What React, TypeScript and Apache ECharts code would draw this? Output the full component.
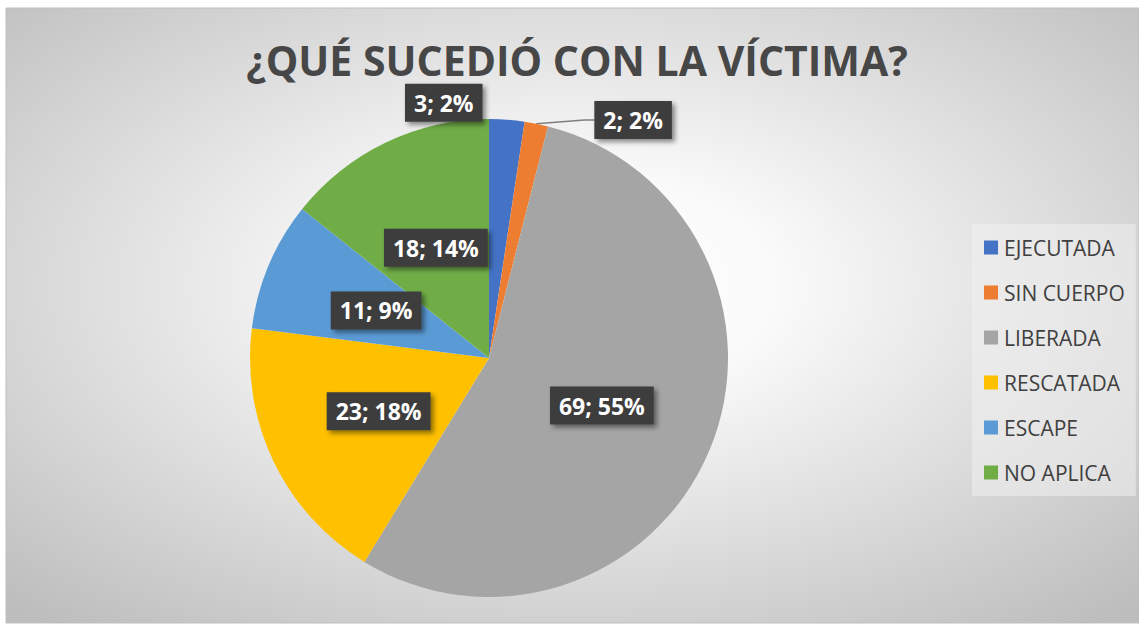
import React, { useEffect, useRef } from 'react';
import * as echarts from 'echarts';

const categories = ['EJECUTADA', 'SIN CUERPO', 'LIBERADA', 'RESCATADA', 'ESCAPE', 'NO APLICA'];
const values = [3, 2, 69, 23, 11, 18];
const colors = ['#4472C4', '#ED7D31', '#A5A5A5', '#FFC000', '#5B9BD5', '#70AD47'];
const titleText = '¿QUÉ SUCEDIÓ CON LA VÍCTIMA?';
// which slices get their label outside the pie, with an optional leader line
const outsideLabel = [true, true, false, false, false, false];
const showLeader = [false, true, false, false, false, false];
// small nudges of the outside labels (best-fit placement)
const labelNudge: Array<[number, number]> = [[-118, -2], [40, 11], [0, 0], [0, 0], [0, 0], [0, 0]];

const FONT = '"Open Sans", "Noto Sans", sans-serif';

export default function App() {
  const ref = useRef<HTMLDivElement>(null);
  useEffect(() => {
    if (!ref.current) return;
    const chart = echarts.init(ref.current, undefined, { renderer: 'svg' });
    const total = values.reduce((a, b) => a + b, 0);
    const data = categories.map((name, i) => ({
      name,
      value: values[i],
      itemStyle: { color: colors[i] },
      label: { position: outsideLabel[i] ? 'outside' : 'inside' },
      labelLine: { show: showLeader[i] },
    }));
    chart.setOption({
      animation: false,
      graphic: [
        {
          type: 'rect',
          z: -10,
          silent: true,
          shape: { x: 6, y: 8, width: 1133, height: 615 },
          style: {
            fill: {
              type: 'radial',
              x: 0.5,
              y: 0.45,
              r: 0.72,
              colorStops: [
                { offset: 0, color: '#ffffff' },
                { offset: 0.25, color: '#fafafa' },
                { offset: 1, color: '#bdbdbd' },
              ],
            },
            stroke: '#bfbfbf',
            lineWidth: 1,
          },
        },
        {
          type: 'text',
          z: 5,
          x: 577,
          y: 60,
          style: {
            text: titleText,
            fill: '#474747',
            font: `bold 41px ${FONT}`,
            lineHeight: 42,
            align: 'center',
            verticalAlign: 'middle',
          },
        },
      ],
      legend: {
        orient: 'vertical',
        left: 972,
        top: 224,
        data: categories,
        icon: 'rect',
        itemWidth: 14,
        itemHeight: 14,
        itemGap: 24,
        padding: [13, 11, 13, 12],
        backgroundColor: 'rgba(240,240,240,0.55)',
        selectedMode: false,
        textStyle: {
          fontFamily: FONT,
          fontSize: 21,
          color: '#404040',
          lineHeight: 20,
          padding: [0, 0, 0, 1],
        },
      },
      series: [
        {
          type: 'pie',
          center: [489, 358],
          radius: 239,
          startAngle: 90,
          clockwise: true,
          avoidLabelOverlap: false,
          data,
          itemStyle: { borderWidth: 0 },
          label: {
            show: true,
            formatter: (p: any) => `${p.value}; ${Math.round((p.value / total) * 100)}%`,
            color: '#ffffff',
            fontFamily: FONT,
            fontWeight: 'bold',
            fontSize: 23,
            backgroundColor: '#3d3d3d',
            padding: [8, 9, 7, 9],
            shadowColor: 'rgba(0,0,0,0.45)',
            shadowBlur: 5,
            shadowOffsetX: 3,
            shadowOffsetY: 3,
          },
          labelLine: {
            length: 15,
            length2: 10,
            lineStyle: { color: '#7f7f7f', width: 1.5 },
          },
          labelLayout: (params: any) => {
            const n = labelNudge[params.dataIndex];
            if (!n || (n[0] === 0 && n[1] === 0)) return {};
            const r = params.labelRect;
            return { x: r.x + n[0], y: r.y + r.height / 2 + n[1] };
          },
          emphasis: { disabled: true },
        },
      ],
    });
    return () => chart.dispose();
  }, []);
  return (
    <div
      ref={ref}
      style={{ position: 'fixed', left: 0, top: 0, width: 1139, height: 625, background: '#ffffff' }}
    />
  );
}
